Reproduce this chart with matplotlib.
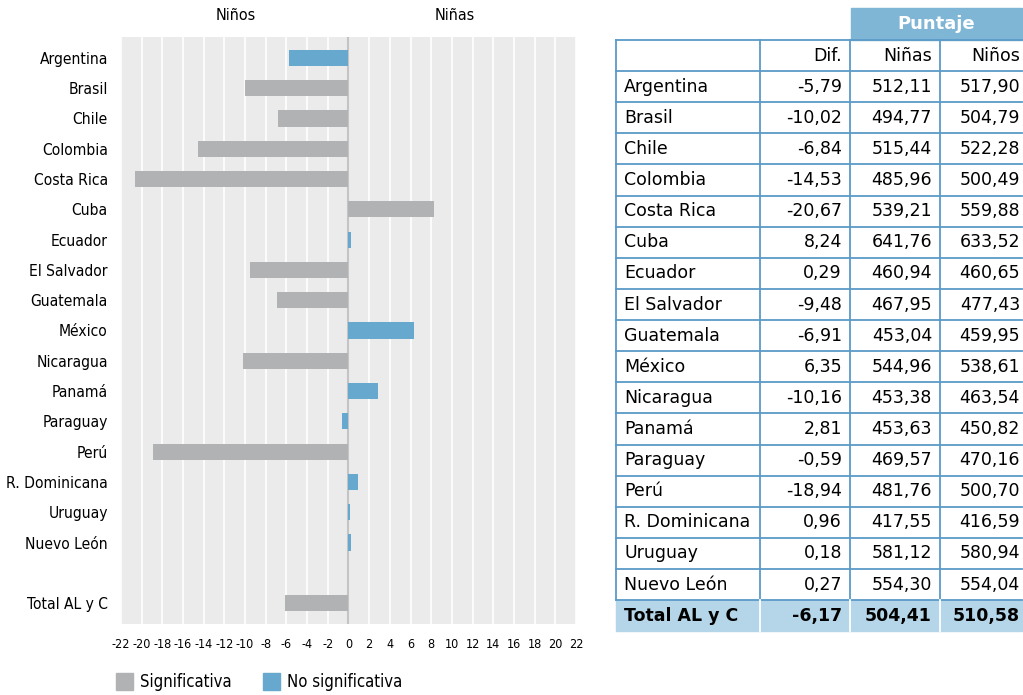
import matplotlib
matplotlib.use('Agg')
import matplotlib.pyplot as plt
from matplotlib.patches import Rectangle

paises = ['Argentina', 'Brasil', 'Chile', 'Colombia', 'Costa Rica', 'Cuba', 'Ecuador',
          'El Salvador', 'Guatemala', 'México', 'Nicaragua', 'Panamá', 'Paraguay', 'Perú',
          'R. Dominicana', 'Uruguay', 'Nuevo León', 'Total AL y C']
dif = [-5.79, -10.02, -6.84, -14.53, -20.67, 8.24, 0.29, -9.48, -6.91, 6.35, -10.16,
       2.81, -0.59, -18.94, 0.96, 0.18, 0.27, -6.17]
ninas = [512.11, 494.77, 515.44, 485.96, 539.21, 641.76, 460.94, 467.95, 453.04, 544.96,
         453.38, 453.63, 469.57, 481.76, 417.55, 581.12, 554.30, 504.41]
ninos = [517.90, 504.79, 522.28, 500.49, 559.88, 633.52, 460.65, 477.43, 459.95, 538.61,
         463.54, 450.82, 470.16, 500.70, 416.59, 580.94, 554.04, 510.58]
signif = [False, True, True, True, True, True, False, True, True, False, True,
          False, False, True, False, False, False, True]
ticks = list(range(-22, 23, 2))

GRIS = '#b1b2b4'
AZUL = '#67a8cf'
BORDE = '#5b9bc8'
FONDO_TOT = '#b5d5e8'
FONDO_HDR = '#7fb5d5'

W, H = 1023, 695
fig = plt.figure(figsize=(W / 100, H / 100), dpi=100)
cond = dict(family='DejaVu Sans', fontstretch='condensed')

# ---- gráfico de barras
ax = fig.add_axes([121 / W, 1 - 624 / H, (576 - 121) / W, (624 - 37) / H])
ax.set_facecolor('#ebebeb')
pos = [i if i < 17 else 18 for i in range(len(paises))]
colores = [GRIS if s else AZUL for s in signif]
ax.barh(pos, dif, height=0.53, color=colores, zorder=3)
ax.set_xlim(-22, 22)
ax.set_ylim(18.69, -0.69)
ax.set_xticks(ticks)
ax.set_xticklabels([str(t) for t in ticks], fontsize=9, **cond)
ax.set_yticks(pos)
ax.set_yticklabels(paises, fontsize=11.2, **cond)
ax.tick_params(axis='y', length=0, pad=9.5)
ax.tick_params(axis='x', length=0, pad=10)
ax.grid(axis='x', color='white', linewidth=1.2, zorder=1)
ax.axvline(0, color='#c4c4c4', linewidth=1.5, zorder=2)
for s in ax.spines.values():
    s.set_visible(False)

fig.text(236 / W, 1 - 15 / H, 'Niños', ha='center', va='center', fontsize=11.5, **cond)
fig.text(455 / W, 1 - 15 / H, 'Niñas', ha='center', va='center', fontsize=11.5, **cond)

# leyenda
for x0, c, txt in [(116, GRIS, 'Significativa'), (263, AZUL, 'No significativa')]:
    fig.patches.append(Rectangle((x0 / W, 1 - 690 / H), 17 / W, 17 / H, color=c,
                                 transform=fig.transFigure))
    fig.text((x0 + 24) / W, 1 - 682 / H, txt, ha='left', va='center', fontsize=12, **cond)

# ---- tabla
cols = [616, 760, 850, 940, 1022]
top_hdr = 40
alto = 31.12
n = len(paises)
filas_y = [top_hdr + alto * (i + 1) for i in range(n + 1)]
bottom = filas_y[-1]

def fy(y):
    return 1 - y / H

# fondo encabezado "Puntaje" y fila total
fig.patches.append(Rectangle((851 / W, fy(top_hdr)), (1022 - 851) / W, 32 / H,
                             color=FONDO_HDR, transform=fig.transFigure))
fig.text(((851 + 1022) / 2) / W, fy(24), 'Puntaje', ha='center', va='center',
         fontsize=13, color='white', fontweight='bold')
fig.patches.append(Rectangle((cols[0] / W, fy(bottom)), (cols[-1] - cols[0]) / W,
                             alto / H, color=FONDO_TOT, transform=fig.transFigure))

# líneas
lin = dict(color=BORDE, linewidth=1.3, transform=fig.transFigure)
for y in [top_hdr] + filas_y[:-1]:
    fig.add_artist(plt.Line2D([cols[0] / W, cols[-1] / W], [fy(y), fy(y)], **lin))
for x in cols[:-1]:
    fig.add_artist(plt.Line2D([x / W, x / W], [fy(top_hdr), fy(bottom - alto)], **lin))
for x in cols[1:-1]:
    fig.add_artist(plt.Line2D([x / W, x / W], [fy(bottom - alto), fy(bottom)],
                              color='white', linewidth=1.3, transform=fig.transFigure))

fs = 12.5
yh = top_hdr + alto / 2
fig.text((cols[2] - 8) / W, fy(yh), 'Dif.', ha='right', va='center', fontsize=fs)
fig.text((cols[3] - 8) / W, fy(yh), 'Niñas', ha='right', va='center', fontsize=fs)
fig.text((cols[4] - 2) / W, fy(yh), 'Niños', ha='right', va='center', fontsize=fs)

def fmt(v):
    return f'{v:.2f}'.replace('.', ',')

for i in range(n):
    yc = fy(filas_y[i] + alto / 2)
    w = 'bold' if i == n - 1 else 'normal'
    fig.text((cols[0] + 8) / W, yc, paises[i], ha='left', va='center', fontsize=fs, fontweight=w)
    fig.text((cols[2] - 8) / W, yc, fmt(dif[i]), ha='right', va='center', fontsize=fs, fontweight=w)
    fig.text((cols[3] - 8) / W, yc, fmt(ninas[i]), ha='right', va='center', fontsize=fs, fontweight=w)
    fig.text((cols[4] - 2) / W, yc, fmt(ninos[i]), ha='right', va='center', fontsize=fs, fontweight=w)

fig.savefig('out.png', dpi=100)
